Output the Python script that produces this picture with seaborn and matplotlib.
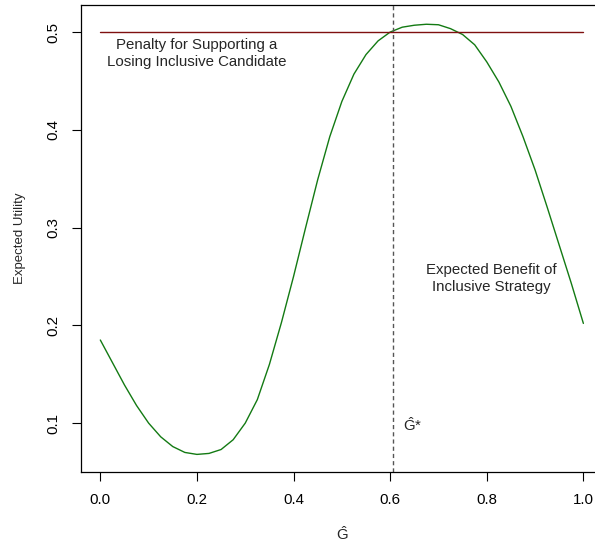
import matplotlib
matplotlib.use("Agg")
import matplotlib.pyplot as plt
import seaborn as sns
import pandas as pd

# Data
g_hat = [0.000, 0.025, 0.050, 0.075, 0.100, 0.125, 0.150, 0.175, 0.200, 0.225,
         0.250, 0.275, 0.300, 0.325, 0.350, 0.375, 0.400, 0.425, 0.450, 0.475,
         0.500, 0.525, 0.550, 0.575, 0.600, 0.625, 0.650, 0.675, 0.700, 0.725,
         0.750, 0.775, 0.800, 0.825, 0.850, 0.875, 0.900, 0.925, 0.950, 0.975, 1.000]
benefit = [0.185, 0.162, 0.139, 0.118, 0.100, 0.086, 0.076, 0.070, 0.068, 0.069,
           0.073, 0.083, 0.100, 0.124, 0.160, 0.203, 0.250, 0.300, 0.349, 0.393,
           0.429, 0.457, 0.477, 0.491, 0.500, 0.505, 0.507, 0.508, 0.5075, 0.5035,
           0.4975, 0.487, 0.4695, 0.449, 0.424, 0.393, 0.359, 0.321, 0.282, 0.243, 0.202]
penalty_x = [0.0, 1.0]
penalty = [0.5, 0.5]
g_star = 0.605

x_ticks = [0.0, 0.2, 0.4, 0.6, 0.8, 1.0]
x_tick_labels = ["0.0", "0.2", "0.4", "0.6", "0.8", "1.0"]
y_ticks = [0.1, 0.2, 0.3, 0.4, 0.5]
y_tick_labels = ["0.1", "0.2", "0.3", "0.4", "0.5"]

sns.set_theme(style="ticks")
plt.rcParams['font.family'] = ['Liberation Sans', 'DejaVu Sans']
plt.rcParams['mathtext.fontset'] = 'custom'
plt.rcParams['mathtext.rm'] = 'Liberation Sans'
plt.rcParams['mathtext.it'] = 'Liberation Sans'
plt.rcParams['lines.scale_dashes'] = False
plt.rcParams['lines.solid_joinstyle'] = 'round'

DPI = 100
fig = plt.figure(figsize=(5.95, 5.46), dpi=DPI)
ax = fig.add_axes([81 / 595, (546 - 471.7) / 546, (602.7 - 81) / 595, (471.7 - 5) / 546])

df = pd.DataFrame({"g": g_hat, "u": benefit})
sns.lineplot(data=df, x="g", y="u", ax=ax, color="#137a13", linewidth=1.0)
ax.plot(penalty_x, penalty, color="#7f1010", linewidth=1.0)
ax.axvline(g_star, color="#555555", linewidth=1.0, linestyle=(0, (3.0, 2.2)))

ax.set_xlim(-0.04, 1.04)
ax.set_ylim(0.0503, 0.5277)
ax.set_xticks(x_ticks)
ax.set_xticklabels(x_tick_labels)
ax.set_yticks(y_ticks)
ax.set_yticklabels(y_tick_labels, rotation=90, va="center")

fs = 10.8
ax.tick_params(axis="both", direction="out", length=6.5, width=0.8, colors="black",
               labelsize=fs)
ax.tick_params(axis="x", pad=9)
ax.tick_params(axis="y", pad=8)
for s in ax.spines.values():
    s.set_color("black")
    s.set_linewidth(0.9)

ax.set_xlabel(r"$\hat{\mathrm{G}}$", fontsize=fs, labelpad=13)
ax.set_ylabel("Expected Utility", fontsize=9.5, labelpad=15)

ax.text(0.2, 0.478, "Penalty for Supporting a\nLosing Inclusive Candidate",
        ha="center", va="center", fontsize=fs, linespacing=1.3)
ax.text(0.81, 0.248, "Expected Benefit of\nInclusive Strategy",
        ha="center", va="center", fontsize=fs, linespacing=1.3)
ax.text(0.646, 0.098, r"$\hat{\mathrm{G}}$*", ha="center", va="center", fontsize=fs)

fig.savefig("out.png", dpi=DPI)
